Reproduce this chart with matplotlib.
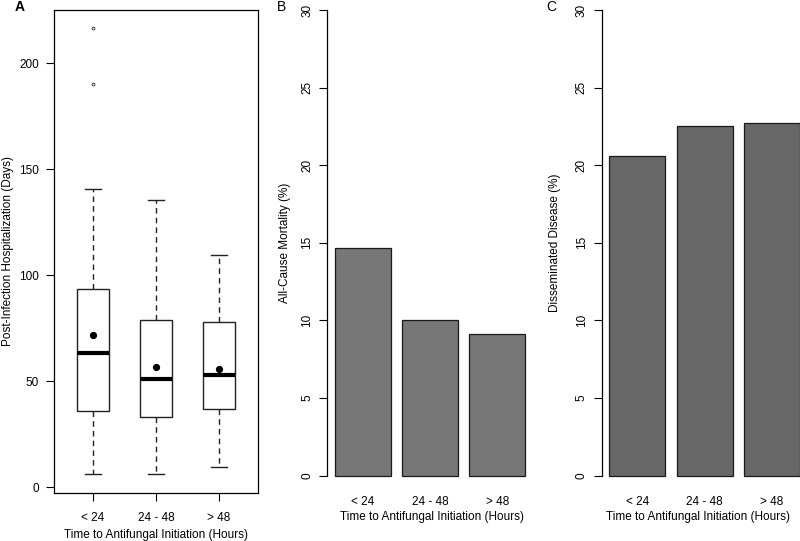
import matplotlib
matplotlib.use("Agg")
import matplotlib.pyplot as plt

plt.rcParams['font.family'] = ['Liberation Sans', 'DejaVu Sans']

groups = ['< 24', '24 - 48', '> 48']

# panel A: box plot summary
q1 = [35.7, 33.2, 36.6]
med = [63.0, 50.9, 53.0]
q3 = [93.4, 78.8, 77.7]
whislo = [6.3, 6.3, 9.6]
whishi = [140.6, 135.2, 109.3]
means = [71.7, 56.5, 55.5]
fliers = [[216.4, 190.2], [], []]

# panel B and C
mortality = [14.7, 10.0, 9.1]
disseminated = [20.6, 22.5, 22.7]

xlab = 'Time to Antifungal Initiation (Hours)'
fs = 8.5

W, H = 800, 541
fig = plt.figure(figsize=(8, 5.41), dpi=100)


def fig_ax(x0, x1, ytop, ybot):
    return fig.add_axes([x0 / W, 1 - ybot / H, (x1 - x0) / W, (ybot - ytop) / H])


# ---- A ----
axA = fig_ax(54, 258, 10, 493)
stats = []
for i in range(3):
    stats.append({'q1': q1[i], 'med': med[i], 'q3': q3[i], 'whislo': whislo[i],
                  'whishi': whishi[i], 'fliers': fliers[i], 'label': groups[i]})
axA.bxp(stats, positions=[1, 2, 3], widths=0.5, capwidths=0.25, patch_artist=True,
        boxprops=dict(facecolor='white', edgecolor='#222222', linewidth=1),
        medianprops=dict(color='black', linewidth=3),
        whiskerprops=dict(color='#222222', linewidth=1, linestyle=(0, (4, 3))),
        capprops=dict(color='#222222', linewidth=1),
        flierprops=dict(marker='o', markersize=2, markerfacecolor='white',
                        markeredgecolor='#222222', markeredgewidth=0.6))
axA.plot([1, 2, 3], means, 'o', color='black', markersize=4.2)
axA.set_xlim(0.38, 3.62)
axA.set_ylim(-2.8, 225)
axA.set_yticks([0, 50, 100, 150, 200])
axA.set_xticks([1, 2, 3])
axA.set_xticklabels(groups)
axA.tick_params(axis='both', length=6, width=0.8, labelsize=fs, pad=5)
axA.tick_params(axis='x', pad=8)
for s in axA.spines.values():
    s.set_linewidth(0.9)
fig.text(156 / W, 1 - 535 / H, xlab, ha='center', va='center', fontsize=fs)
fig.text(8 / W, 1 - 251 / H, 'Post-Infection Hospitalization (Days)', rotation=90,
         ha='center', va='center', fontsize=fs)
fig.text(20 / W, 1 - 7 / H, 'A', ha='center', va='center', fontsize=10, fontweight='bold')


# ---- B and C ----
def bar_panel(x_axis, values, color, ylabel, ylab_x, xlab_x, letter, letter_x):
    ax = fig_ax(x_axis, x_axis + 206, -8.6, 494.3)
    pos = [0.7, 1.9, 3.1]
    ax.bar(pos, values, width=1.0, color=color, edgecolor='#1a1a1a', linewidth=0.9)
    ax.set_xlim(0.064, 3.736)
    ax.set_ylim(-1.2, 31.2)
    for k in ['top', 'right', 'bottom']:
        ax.spines[k].set_visible(False)
    ax.spines['left'].set_bounds(0, 30)
    ax.spines['left'].set_linewidth(0.9)
    ax.set_yticks([0, 5, 10, 15, 20, 25, 30])
    ax.set_yticklabels(['0', '5', '10', '15', '20', '25', '30'], rotation=90, va='center')
    ax.tick_params(axis='y', length=6, width=0.8, labelsize=fs, pad=4)
    ax.set_xticks(pos)
    ax.set_xticklabels(groups)
    ax.tick_params(axis='x', length=0, labelsize=fs, pad=1)
    fig.text(xlab_x / W, 1 - 517 / H, xlab, ha='center', va='center', fontsize=fs)
    fig.text(ylab_x / W, 1 - 243 / H, ylabel, rotation=90, ha='center', va='center', fontsize=fs)
    fig.text(letter_x / W, 1 - 7 / H, letter, ha='center', va='center', fontsize=10)
    return ax


bar_panel(327, mortality, '#777777', 'All-Cause Mortality (%)', 285, 432, 'B', 282)
bar_panel(601.7, disseminated, '#676767', 'Disseminated Disease (%)', 555, 698, 'C', 551)

fig.savefig('out.png', dpi=100)
